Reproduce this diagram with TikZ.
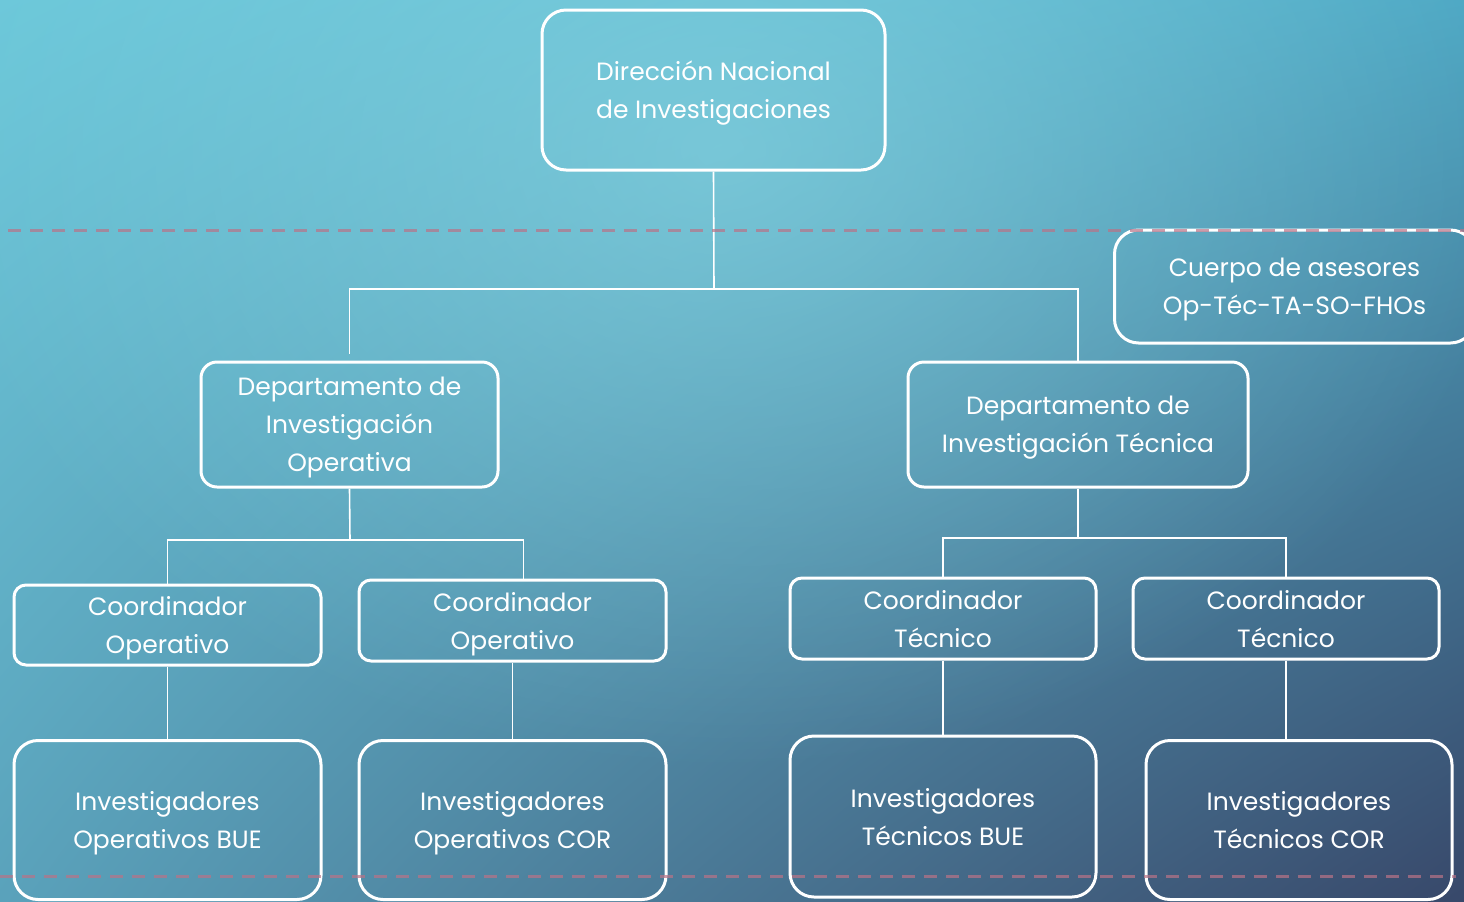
\documentclass[tikz,border=0pt]{standalone}
\usepackage{fontspec}
\setmainfont{Poppins}
\usetikzlibrary{calc,fadings,shadings}

\definecolor{bgul}{RGB}{108,200,218}
\definecolor{bgur}{RGB}{78,168,196}
\definecolor{bgll}{RGB}{90,162,187}
\definecolor{bglr}{RGB}{56,72,106}
\definecolor{bgglow}{RGB}{140,216,228}
\definecolor{cutred}{RGB}{185,115,135}

\tikzfading[name=glow, inner color=transparent!0, outer color=transparent!100]

\tikzset{
  box/.style={draw=white, line width=1.5pt, rounded corners=12pt, text=white,
    align=center, inner sep=0pt, text depth=0pt, font=\fontsize{12.5}{19}\selectfont},
  link/.style={draw=white, line width=0.8pt},
  cut/.style={draw=cutred, draw opacity=0.7, line width=1.5pt, dash pattern=on 6.5pt off 4.5pt}
}

\begin{document}
\begin{tikzpicture}[x=0.5pt,y=-0.5pt]
			\useasboundingbox (0,0) rectangle (1464,901);
			\clip (0,0) rectangle (1464,901);
			% background
			\shade[upper left=bgul, upper right=bgur, lower left=bgll, lower right=bglr]
			  (0,0) rectangle (1464,901);
			\fill[bgglow, fill opacity=0.6, path fading=glow] (720,150) ellipse [x radius=800, y radius=620];
			% top
			\node[box, minimum width=171.5pt, minimum height=80pt] (dni) at (713.5,90) {Dirección Nacional\\de Investigaciones};
			\node[box, minimum width=180pt, minimum height=56.5pt, anchor=west] (ase) at (1113,286.5) {Cuerpo de asesores\\Op-Téc-TA-SO-FHOs};
			% departments
			\node[box, minimum width=148.5pt, minimum height=62.5pt, rounded corners=8pt] (dio) at (349.5,424.5) {Departamento de\\Investigación\\Operativa};
			\node[box, minimum width=170pt, minimum height=62.5pt, rounded corners=8pt] (dit) at (1078,424.5) {Departamento de\\Investigación Técnica};
			% coordinators
			\node[box, minimum width=153.5pt, minimum height=40pt, rounded corners=6pt] (co1) at (167.5,625) {Coordinador\\Operativo};
			\node[box, minimum width=153.5pt, minimum height=40.5pt, rounded corners=6pt] (co2) at (512.5,620.5) {Coordinador\\Operativo};
			\node[box, minimum width=153pt, minimum height=40.5pt, rounded corners=6pt] (ct1) at (943,618.5) {Coordinador\\Técnico};
			\node[box, minimum width=153pt, minimum height=40.5pt, rounded corners=6pt] (ct2) at (1286,618.5) {Coordinador\\Técnico};
			% investigators
			\node[box, minimum width=153.5pt, minimum height=79.5pt] (io1) at (167.5,820) {Investigadores\\Operativos BUE};
			\node[box, minimum width=153.5pt, minimum height=79.5pt] (io2) at (512.5,820) {Investigadores\\Operativos COR};
			\node[box, minimum width=153pt, minimum height=80.5pt] (it1) at (943,816.5) {Investigadores\\Técnicos BUE};
			\node[box, minimum width=153pt, minimum height=79.5pt] (it2) at (1299,820) {Investigadores\\Técnicos COR};
			% connectors
			\coordinate (bus0) at (714,289);
			\coordinate (bus1) at (350,540);
			\coordinate (bus2) at (1078,538);
			\draw[link] (dni.south) -- (bus0);
			\draw[link] ([yshift=3.5pt]dio.north) |- (bus0) -| (dit.north);
			\draw[link] (dio.south) -- (bus1);
			\draw[link] (co1.north) |- (bus1) -| ($(co2.north)+(11,0)$);
			\draw[link] (dit.south) -- (bus2);
			\draw[link] (ct1.north) |- (bus2) -| (ct2.north);
			\draw[link] (co1.south) -- (io1.north);
			\draw[link] (co2.south) -- (io2.north);
			\draw[link] (ct1.south) -- (it1.north);
			\draw[link] (ct2.south) -- (ct2.south |- it2.north);
			% dashed cut lines
			\draw[cut] (8,230) -- (1464,230);
			\draw[cut] (0,876) -- (1456,876);
		\end{tikzpicture}
\end{document}
